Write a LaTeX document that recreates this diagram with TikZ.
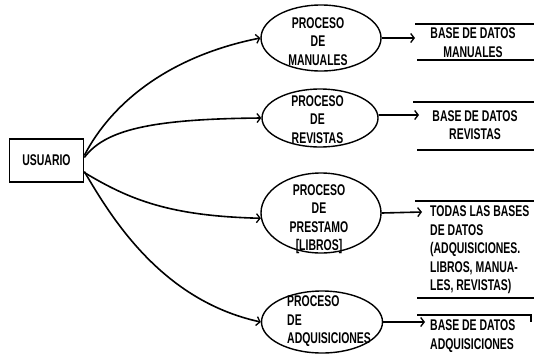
\documentclass[tikz,border=0pt]{standalone}
\usepackage{fontspec}
\setmainfont{Liberation Sans}[FakeStretch=0.675]
\usetikzlibrary{shapes.geometric,arrows.meta}

\begin{document}
\begin{tikzpicture}[x=1bp,y=-1bp,
  every node/.style={font=\fontsize{15.5bp}{18.5bp}\selectfont\bfseries},
  proc/.style={ellipse, draw, line width=1.4bp, inner sep=0pt},
  ptext/.style={align=center, inner sep=0pt},
  flow/.style={line width=1.6bp, -{Straight Barb[length=3.5bp,width=9bp,line width=1.3bp]}},
  wall/.style={line width=1.5bp}]

\useasboundingbox (0,0) rectangle (534,356);
\fill[white] (0,0) rectangle (534,356);

% external entity
\node[draw, line width=1.6bp, minimum width=74bp, minimum height=43bp, inner sep=0pt]
  (user) at (46.5,160.5) {USUARIO};

% processes
\node[proc, minimum width=120bp, minimum height=66bp] (e1) at (321,38) {};
\node[ptext] (t1) at (318,41.5) {PROCESO\\DE\\MANUALES};
\node[proc, minimum width=116bp, minimum height=58bp] (e2) at (320,118) {};
\node[ptext] (t2) at (317.5,119.5) {PROCESO\\DE\\REVISTAS};
\node[proc, minimum width=120bp, minimum height=80bp] (e3) at (321,213) {};
\node[ptext] (t3) at (319,219) {PROCESO\\DE\\PRESTAMO\\{[LIBROS]}};
\node[proc, minimum width=121bp, minimum height=62bp] (e4) at (322,322) {};
\node[ptext, align=left, anchor=west] (t4) at (287,321.5) {PROCESO\\DE\\ADQUISICIONES};

% data stores
\draw[wall] (415,24) -- (534,24);
\draw[wall] (417,60) -- (534,60);
\node[ptext] (s1) at (473,42.5) {BASE DE DATOS\\MANUALES};
\coordinate (s1in) at (415,38);

\draw[wall] (413,102) -- (534,102);
\draw[wall] (417,150) -- (534,150);
\node[ptext] (s2) at (475,125) {BASE DE DATOS\\REVISTAS};
\coordinate (s2in) at (419,115);

\draw[wall] (415,201) -- (534,201);
\draw[wall] (417,298) -- (534,298);
\node[ptext, align=left, anchor=west] (s3) at (430,250)
  {TODAS LAS BASES\\DE DATOS\\(ADQUISICIONES.\\LIBROS, MANUA-\\LES, REVISTAS)};
\coordinate (s3in) at (422,212);

\draw[wall] (417,315) -- (531,315) -- (531,322);
\node[ptext, align=left, anchor=west] (s4) at (430,336) {BASE DE DATOS\\ADQUISICIONES};
\coordinate (s4in) at (425,322);

% flows from the user to the processes
\draw[flow] ([yshift=5bp]user.east) .. controls (112,102) and (170,56) .. (e1.west);
\draw[flow] ([yshift=3bp]user.east) .. controls (105,130) and (150,119) .. (e2.west);
\draw[flow] ([yshift=-12bp]user.east) .. controls (130,200) and (170,216) .. (e3.185);
\draw[flow] ([yshift=-11bp]user.east) .. controls (110,215) and (160,300) .. (e4.west);

% flows from the processes to the stores
\draw[flow] (e1.east) -- (s1in);
\draw[flow] ([yshift=3bp]e2.east) -- (s2in);
\draw[flow] (e3.east) -- (s3in);
\draw[flow] (e4.east) -- (s4in);
\end{tikzpicture}
\end{document}
